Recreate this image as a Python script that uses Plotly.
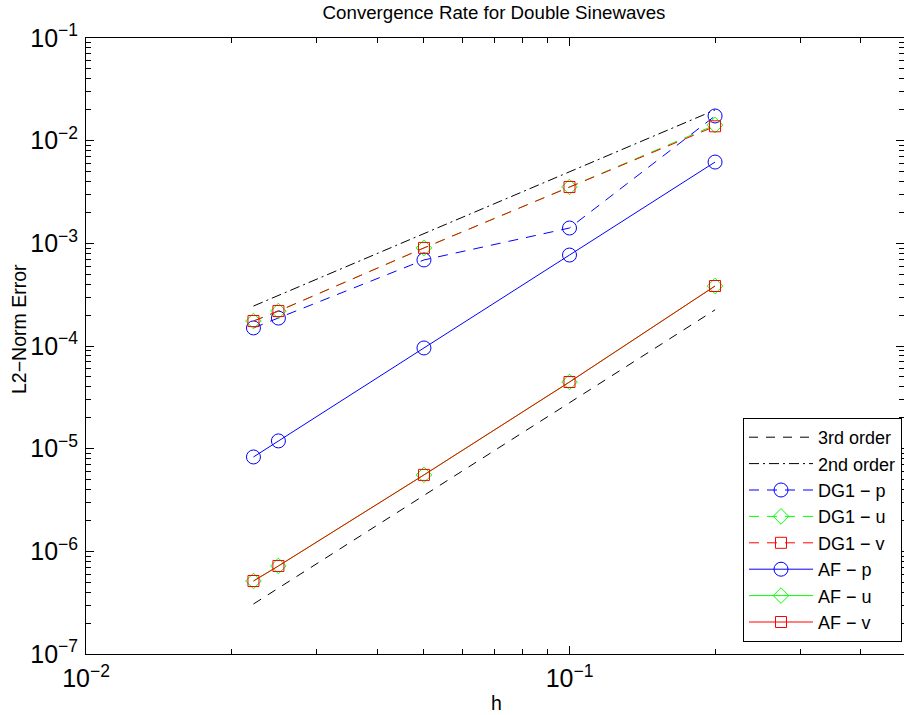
import plotly.graph_objects as go

# Mesh spacing
h = [0.0222, 0.025, 0.05, 0.1, 0.2]

# Reference slopes
third_order = [3.07e-7, 4.38e-7, 3.5e-6, 2.8e-5, 2.25e-4]
second_order = [2.45e-4, 3.11e-4, 1.24e-3, 4.97e-3, 1.99e-2]

# DG1 errors
dg1_p = [1.50e-4, 1.87e-4, 6.89e-4, 1.41e-3, 1.74e-2]
dg1_u = [1.75e-4, 2.19e-4, 9.02e-4, 3.54e-3, 1.42e-2]
dg1_v = [1.75e-4, 2.19e-4, 9.02e-4, 3.54e-3, 1.38e-2]

# AF errors
af_p = [8.3e-6, 1.19e-5, 9.57e-5, 7.69e-4, 6.19e-3]
af_u = [5.14e-7, 7.2e-7, 5.55e-6, 4.46e-5, 3.84e-4]
af_v = [5.14e-7, 7.2e-7, 5.55e-6, 4.46e-5, 3.84e-4]

FONT = "Liberation Sans, Arial, Helvetica, sans-serif"
BLUE, GREEN, RED = "#0000ff", "#00ff00", "#ff0000"

fig = go.Figure()

def add(y, name, color, dash, symbol=None, size=12):
    mode = "lines+markers" if symbol else "lines"
    fig.add_trace(go.Scatter(
        x=h, y=y, name=name, mode=mode,
        line=dict(color=color, width=1, dash=dash),
        marker=dict(symbol=symbol, size=size, color=color,
                    line=dict(color=color, width=1)) if symbol else None,
    ))

add(third_order, "3rd order", "black", "9px,8px")
add(second_order, "2nd order", "black", "10px,4px,2px,4px")
add(dg1_p, "DG1 − p", BLUE, "10px,8px", "circle-open", 14)
add(dg1_u, "DG1 − u", GREEN, "10px,8px", "diamond-open", 12)
add(dg1_v, "DG1 − v", RED, "10px,8px", "square-open", 11)
add(af_p, "AF − p", BLUE, "solid", "circle-open", 14)
add(af_u, "AF − u", GREEN, "solid", "diamond-open", 12)
add(af_v, "AF − v", RED, "solid", "square-open", 11)

axis_common = dict(
    type="log",
    dtick=1,
    exponentformat="power",
    showexponent="all",
    showgrid=False,
    zeroline=False,
    showline=True,
    linecolor="black",
    linewidth=1,
    ticks="inside",
    ticklen=8,
    tickcolor="black",
    automargin=False,
    tickfont=dict(family=FONT, size=20, color="black"),
    minor=dict(ticks="inside", ticklen=5, tickcolor="black", dtick="D1", showgrid=False),
    mirror="allticks",
)

fig.update_xaxes(**axis_common, range=[-2, -0.3082], ticklabelstandoff=3)
fig.update_yaxes(**axis_common, range=[-7, -1], ticklabelstandoff=3)

label_font = dict(family=FONT, size=19.5, color="black")
fig.add_annotation(text="h", xref="paper", yref="paper", x=(497 - 86) / 818,
                   y=(654 - 703) / 616, xanchor="center", yanchor="middle",
                   showarrow=False, font=label_font)
fig.add_annotation(text="L2−Norm Error", xref="paper", yref="paper",
                   x=(19 - 86) / 818, y=(654 - 329) / 616, textangle=-90,
                   xanchor="center", yanchor="middle", showarrow=False, font=label_font)

fig.update_layout(
    width=904,
    height=715,
    margin=dict(l=86, r=0, t=38, b=61),
    paper_bgcolor="white",
    plot_bgcolor="white",
    title=dict(text="Convergence Rate for Double Sinewaves", x=494 / 904, xanchor="center",
               y=1 - 12 / 715, yanchor="middle",
               font=dict(family=FONT, size=18.7, color="black")),
    legend=dict(
        x=(902 - 86) / 818, y=(654 - 642) / 616, xanchor="right", yanchor="bottom",
        bgcolor="white", bordercolor="black", borderwidth=1,
        font=dict(family=FONT, size=18, color="black"),
        itemwidth=64,
        tracegroupgap=0,
    ),
    showlegend=True,
)

fig.write_html("out.html")
